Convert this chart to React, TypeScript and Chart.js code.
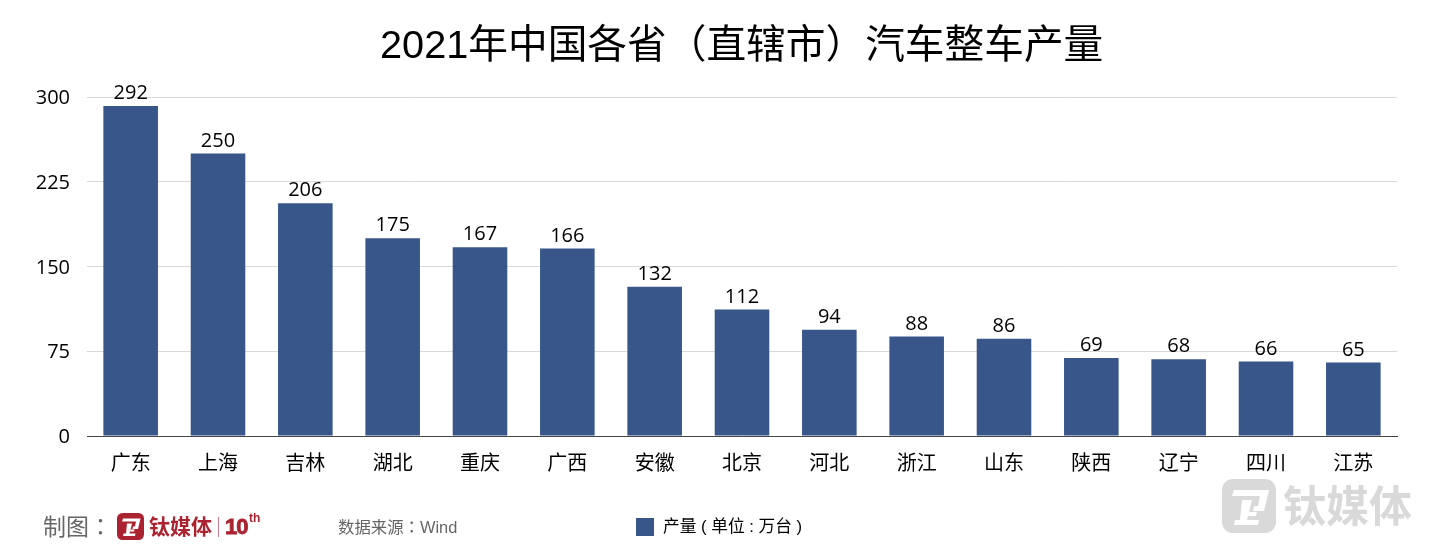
import React, { useEffect, useRef } from "react";
import { Chart, registerables } from "chart.js";

Chart.register(...registerables);

const categories = ["广东", "上海", "吉林", "湖北", "重庆", "广西", "安徽", "北京", "河北", "浙江", "山东", "陕西", "辽宁", "四川", "江苏"];
const output = [292, 250, 206, 175, 167, 166, 132, 112, 94, 88, 86, 69, 68, 66, 65];
const yTicks = [0, 75, 150, 225, 300];
const titleText = "2021年中国各省（直辖市）汽车整车产量";
const legendText = "产量 ( 单位 : 万台 )";
const sourceText = "数据来源：Wind";
const makerText = "制图：";
const brandText = "钛媒体";

const BAR = "#38568A";
const CJK = '"Liberation Sans", "Noto Sans CJK SC", sans-serif';
const CJK_TC = '"Liberation Sans", "Noto Sans CJK TC", sans-serif';
const NUM = '"Open Sans", "Noto Sans CJK SC", sans-serif';

const valueLabels = {
  id: "valueLabels",
  afterDatasetsDraw(chart: any) {
    const { ctx } = chart;
    const meta = chart.getDatasetMeta(0);
    ctx.save();
    ctx.font = `20px ${NUM}`;
    ctx.fillStyle = "#000";
    ctx.textAlign = "center";
    ctx.textBaseline = "middle";
    meta.data.forEach((bar: any, i: number) => {
      ctx.fillText(String(output[i]), bar.x, bar.y - 12.5);
    });
    ctx.restore();
  },
};

function Logo({ x, y, size, bg }: { x: number; y: number; size: number; bg: string }) {
  return (
    <svg style={{ position: "absolute", left: x, top: y }} width={size} height={size} viewBox="0 0 54 54">
      <rect width="54" height="54" rx="11" fill={bg} />
      <path d="M12 11H47L42 32H31L32 27H36L38 17H10Z" fill="#fff" />
      <path d="M20 21H30L25 41H37L36 46H12L13 41H18Z" fill="#fff" />
      <path d="M27 33H35L34 37H26Z" fill="#fff" />
    </svg>
  );
}

const abs = (left: number, top: number, extra: React.CSSProperties = {}): React.CSSProperties => ({
  position: "absolute",
  left,
  top,
  whiteSpace: "pre",
  lineHeight: 1,
  fontFamily: CJK,
  ...extra,
});

export default function App() {
  const ref = useRef<HTMLCanvasElement>(null);

  useEffect(() => {
    const chart = new Chart(ref.current!, {
      type: "bar",
      data: {
        labels: categories,
        datasets: [{ label: legendText, data: output, backgroundColor: BAR, barPercentage: 0.625, categoryPercentage: 1 }],
      },
      plugins: [valueLabels],
      options: {
        responsive: false,
        animation: false,
        layout: { padding: { top: 97, right: 42, bottom: 0, left: 0 } },
        plugins: { legend: { display: false }, title: { display: false }, tooltip: { enabled: false } },
        scales: {
          x: {
            afterFit(s: any) { s.height = 123; },
            grid: { display: false },
            border: { color: "#444", width: 1 },
            ticks: { color: "#000", font: { family: NUM, size: 20 }, padding: 8, maxRotation: 0, autoSkip: false },
          },
          y: {
            min: 0,
            max: 300,
            afterFit(s: any) { s.width = 87; },
            afterBuildTicks(s: any) { s.ticks = yTicks.map((value) => ({ value })); },
            grid: { color: "#d9d9d9", lineWidth: 1, drawTicks: false },
            border: { display: false },
            ticks: { color: "#000", font: { family: NUM, size: 20 }, padding: 17, labelOffset: 1.5 },
          },
        },
      },
    });
    return () => chart.destroy();
  }, []);

  return (
    <div style={{ position: "absolute", left: 0, top: 0, width: 1439, height: 559, background: "#fff", overflow: "hidden" }}>
      <canvas ref={ref} width={1439} height={559} style={{ display: "block", position: "absolute", left: 0, top: 0 }} />
      <div style={abs(380, 25, { fontSize: 39.7, color: "#000" })}>{titleText}</div>

      <div style={abs(43, 516, { fontSize: 23, color: "#666", fontFamily: CJK_TC })}>{makerText}</div>
      <Logo x={117} y={513} size={27} bg="#AB2330" />
      <div style={abs(149, 516, { fontSize: 21, fontWeight: 700, color: "#AB2330" })}>{brandText}</div>
      <div style={{ position: "absolute", left: 218, top: 517, width: 1, height: 20, background: "#c9808a" }} />
      <div style={abs(225, 516, { fontSize: 22, fontWeight: 700, color: "#AB2330", letterSpacing: -1, WebkitTextStroke: "0.8px #AB2330" })}>10</div>
      <div style={abs(249, 512, { fontSize: 12, fontWeight: 700, color: "#AB2330" })}>th</div>

      <div style={abs(338, 519, { fontSize: 16.4, color: "#666", fontFamily: CJK_TC })}>{sourceText}</div>

      <div style={{ position: "absolute", left: 636, top: 518, width: 18, height: 18, background: BAR }} />
      <div style={abs(663, 519, { fontSize: 16.7, color: "#000" })}>{legendText}</div>

      <Logo x={1222} y={479} size={54} bg="#D9D9D9" />
      <div style={abs(1283, 486, { fontSize: 43, fontWeight: 700, color: "#D9D9D9" })}>{brandText}</div>
    </div>
  );
}
